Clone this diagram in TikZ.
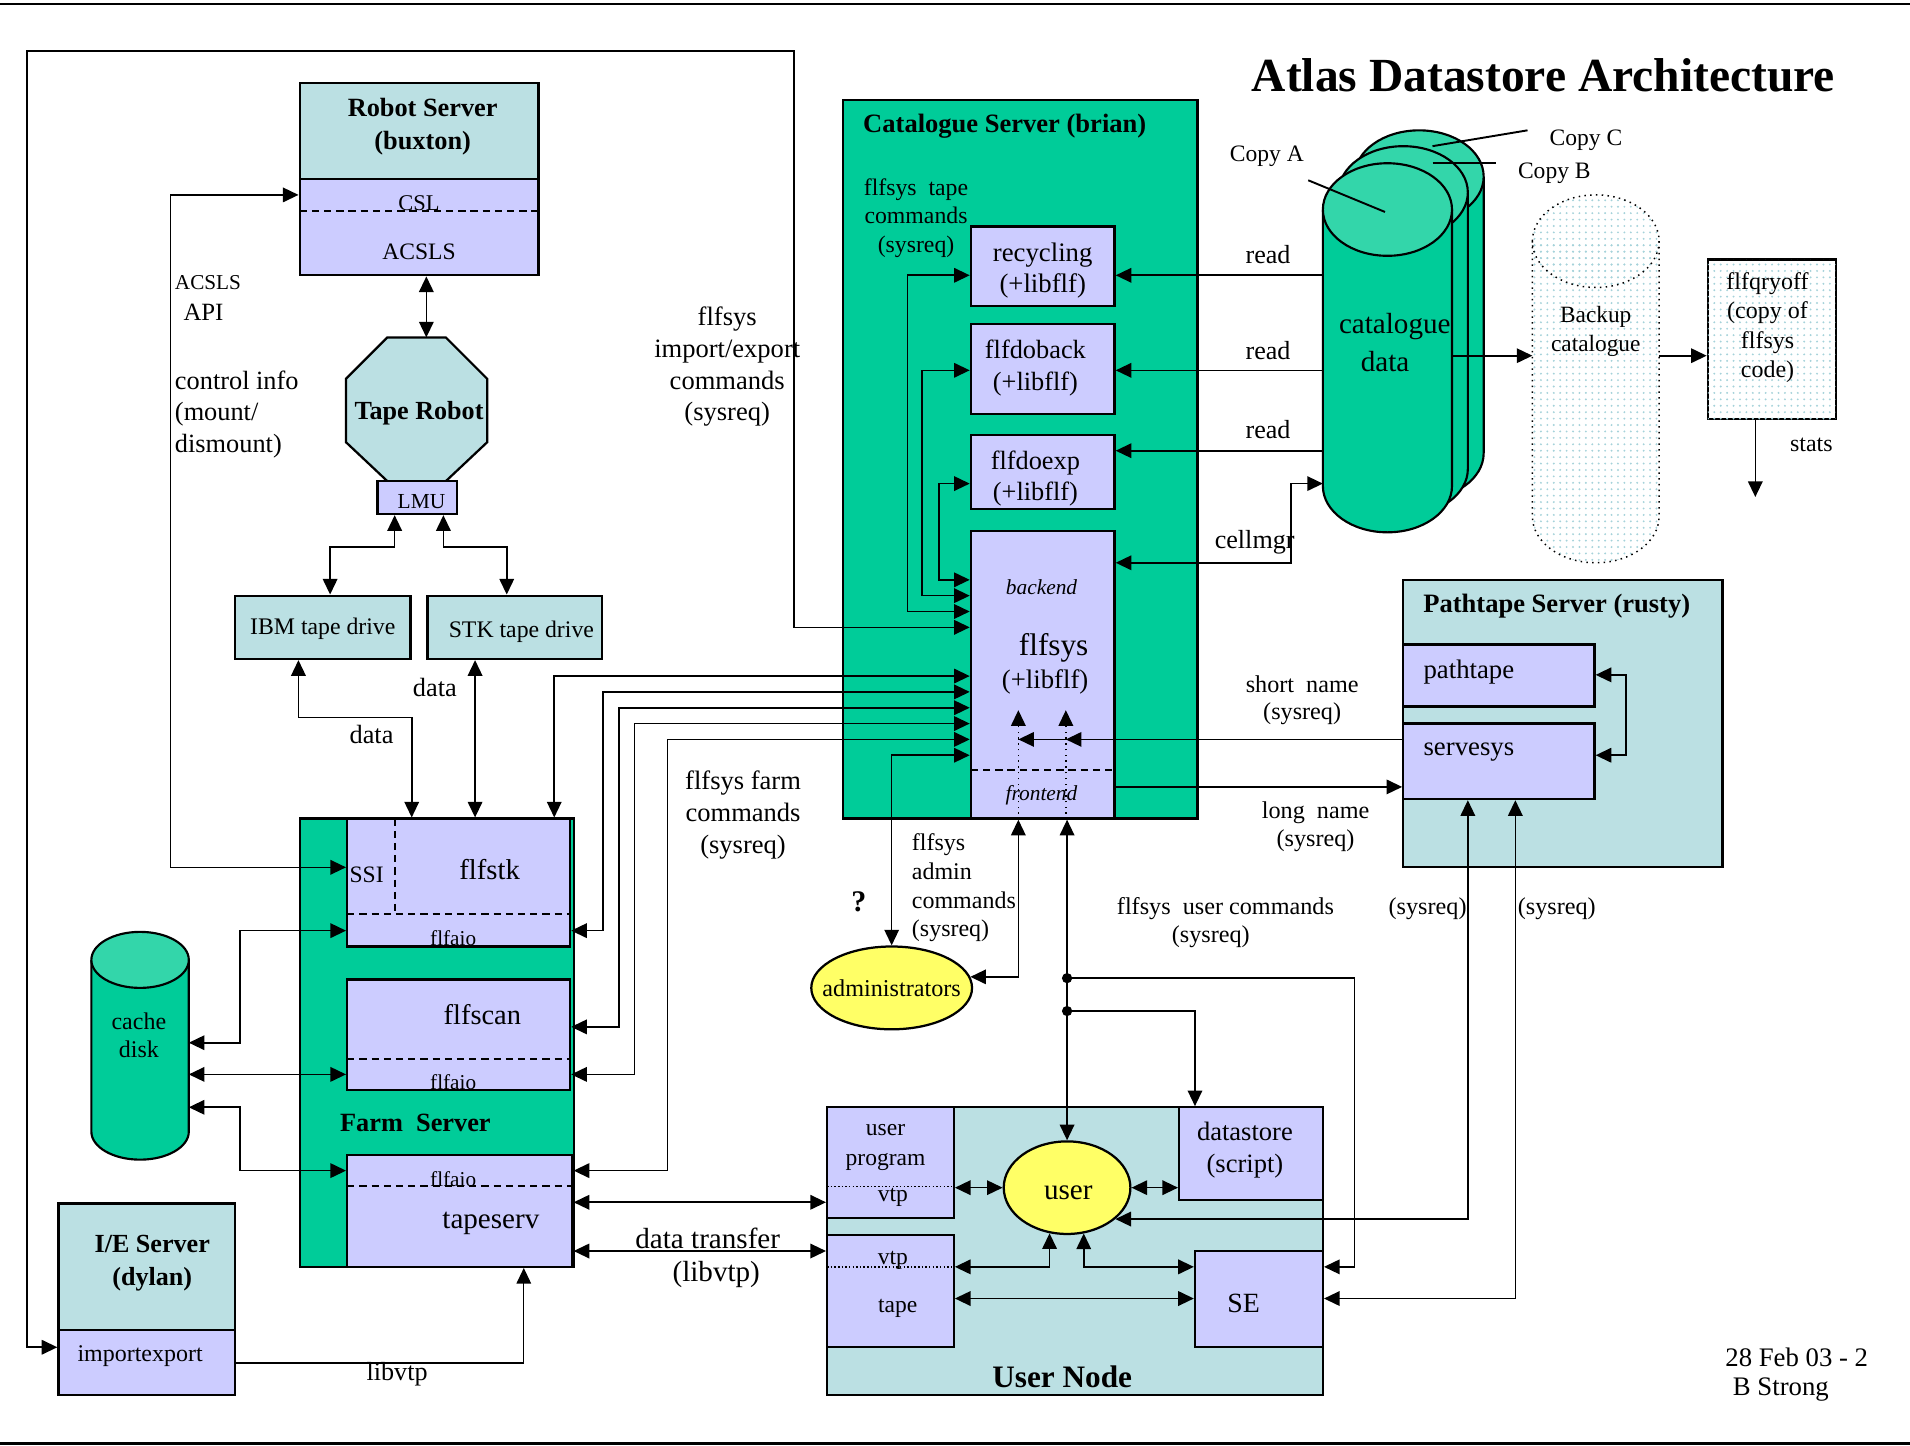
\documentclass[tikz,border=0pt]{standalone}
\usepackage{fontspec}
\setmainfont{Liberation Serif}
\usetikzlibrary{fit,arrows.meta,patterns,shapes.geometric,calc}
\definecolor{cgreen}{RGB}{0,204,153}
\definecolor{cteal}{RGB}{187,224,227}
\definecolor{clav}{RGB}{204,204,255}
\definecolor{ctop}{RGB}{51,214,170}
\definecolor{cyel}{RGB}{255,255,102}
\definecolor{cdot}{RGB}{165,210,218}
\newcommand\mycyl[7]{%
 \fill[#6] (#1-#2,#3) rectangle (#1+#2,#4);
 \fill[#6] (#1,#4) ellipse[x radius=#2, y radius=#5];
 \draw[line width=1pt] (#1-#2,#3) -- (#1-#2,#4) arc[start angle=180,end angle=0,x radius=#2,y radius=#5] -- (#1+#2,#3);
 \filldraw[fill=#7,line width=1pt] (#1,#3) ellipse[x radius=#2,y radius=#5];}
\begin{document}
\begin{tikzpicture}[x=0.02cm,y=-0.02cm, >={Triangle[length=7.3pt,width=6.8pt]}, line width=0.75pt,
 tx/.style={inner sep=0pt, align=center},
 fs/.style 2 args={font=\fontsize{#1pt}{#2pt}\selectfont},
 fsb/.style 2 args={font=\fontsize{#1pt}{#2pt}\selectfont\bfseries},
 fsi/.style 2 args={font=\fontsize{#1pt}{#2pt}\selectfont\itshape},
 bx/.style={draw, line width=1.05pt, inner sep=0pt},
 tbox/.style={bx, fill=cteal}, lbox/.style={bx, fill=clav}, gbox/.style={bx, fill=cgreen},
 dsh/.style={dash pattern=on 3.4pt off 2.3pt, line width=0.9pt},
 dtt/.style={dotted, line width=0.7pt}]
\useasboundingbox (0,0) rectangle (1568,1187);
\draw[line width=1pt] (0,3) -- (1568,3);
\draw[line width=1pt] (0,1185) -- (1568,1185);

% ---------- boxes ----------
\node[tbox, fit={(246,68) (442,147)}] (robtop) {};
\node[lbox, fit={(246,147) (442,226)}] (robbot) {};
\draw[dsh] (246,173) -- (442,173);
\filldraw[fill=cteal, line width=1.05pt] (318,277)--(366,277)--(400,311)--(400,363)--(366,395)--(318,395)--(284,363)--(284,311)--cycle;
\coordinate (robtopc) at (350,277);
\node[lbox, fit={(310,395) (375,422)}] (lmu) {};
\node[tbox, fit={(193,489) (337,541)}] (ibm) {};
\node[tbox, fit={(351,489) (494,541)}] (stk) {};

\node[gbox, fit={(246,672) (471,1040)}] (farm) {};
\node[lbox, fit={(285,672) (468,777)}] (flfstk) {};
\draw[dsh] (324,672) -- (324,750);
\draw[dsh] (285,750) -- (468,750);
\node[lbox, fit={(285,804) (468,895)}] (flfscan) {};
\draw[dsh] (285,869) -- (468,869);
\node[lbox, fit={(285,948) (470,1040)}] (tapeserv) {};
\draw[dsh] (285,974) -- (470,974);

\node[tbox, fit={(48,988) (193,1092)}] (ietop) {};
\node[lbox, fit={(48,1092) (193,1145)}] (impexp) {};

\mycyl{115}{40}{788}{929}{23}{cgreen}{ctop}
\coordinate (cacher) at (155,850);

\node[gbox, fit={(692,82) (983,672)}] (cat) {};
\node[lbox, fit={(797,186) (915,251)}] (recyc) {};
\node[lbox, fit={(797,266) (915,340)}] (doback) {};
\node[lbox, fit={(797,357) (915,418)}] (doexp) {};
\node[lbox, fit={(797,436) (915,672)}] (flfsys) {};
\draw[dsh] (797,632) -- (915,632);

\mycyl{1165}{53}{145}{372}{38}{cgreen}{ctop}
\mycyl{1152}{53}{158}{385}{38}{cgreen}{ctop}
\mycyl{1139}{53}{172}{399}{38}{cgreen}{ctop}
\coordinate (cdl) at (1086,292);
\coordinate (cdr) at (1192,292);

% backup catalogue
\fill[white] (1258,198) rectangle (1362,424);
\fill[white] (1310,424) ellipse[x radius=52,y radius=38];
\fill[pattern=dots, pattern color=cdot] (1258,198) -- (1258,424) arc[start angle=180,end angle=0,x radius=52,y radius=38] -- (1362,198) -- cycle;
\fill[pattern=dots, pattern color=cdot] (1310,198) ellipse[x radius=52,y radius=38];
\draw[dtt] (1258,198) -- (1258,424) arc[start angle=180,end angle=0,x radius=52,y radius=38] -- (1362,198);
\draw[dtt] (1310,198) ellipse[x radius=52,y radius=38];
\coordinate (bkl) at (1258,292);
\coordinate (bkr) at (1362,292);

\node[bx, fill=white, postaction={pattern=dots, pattern color=cdot}, fit={(1402,213) (1507,344)}] (qry) {};

\node[tbox, fit={(1152,476) (1414,712)}] (path) {};
\node[lbox, fit={(1152,529) (1309,580)}] (pathtape) {};
\node[lbox, fit={(1152,594) (1309,656)}] (servesys) {};

\node[tbox, fit={(679,909) (1086,1145)}] (unode) {};
\node[lbox, fit={(679,909) (783,1000)}] (uprog) {};
\draw[dtt, densely dotted] (679,974) -- (783,974);
\node[lbox, fit={(679,1014) (783,1106)}] (vtp) {};
\draw[dtt, densely dotted] (679,1040) -- (783,1040);
\node[lbox, fit={(968,909) (1086,985)}] (dstore) {};
\node[lbox, fit={(981,1027) (1086,1106)}] (se) {};
\node[ellipse, draw, line width=1.05pt, fill=cyel, minimum width=2.08cm, minimum height=1.52cm, inner sep=0pt] (user) at (876,975) {};
\node[ellipse, draw, line width=1.05pt, fill=cyel, minimum width=2.64cm, minimum height=1.36cm, inner sep=0pt] (admin) at (732,811) {};

% ---------- connectors ----------
\draw[<->] (flfsys.west |- 0,515) -- (652,515) -- (652,42) -- (22,42) -- (22,1106) -- (impexp.west |- 0,1106);
\draw[<->] (robbot.west |- 0,160) -- (140,160) -- (140,712) -- (flfstk.west |- 0,712);
\draw[<->] (robbot.south -| 350,0) -- (robtopc);
\draw[<->] (lmu.south -| 324,0) -- (324,449) -- (271,449) -- (ibm.north -| 271,0);
\draw[<->] (lmu.south -| 364,0) -- (364,449) -- (416,449) -- (stk.north -| 416,0);
\draw[<->] (ibm.south -| 245,0) -- (245,589) -- (338,589) -- (flfstk.north -| 338,0);
\draw[<->] (stk.south -| 390,0) -- (flfstk.north -| 390,0);
\draw[<->] (flfsys.west |- 0,555) -- (455,555) -- (flfstk.north -| 455,0);
\draw[<->] (flfsys.west |- 0,568) -- (495,568) -- (495,764) -- (flfstk.east |- 0,764);
\draw[<->] (flfsys.west |- 0,581) -- (508,581) -- (508,843) -- (flfscan.east |- 0,843);
\draw[<->] (flfsys.west |- 0,594) -- (521,594) -- (521,882) -- (flfscan.east |- 0,882);
\draw[<->] (flfsys.west |- 0,607) -- (548,607) -- (548,961) -- (tapeserv.east |- 0,961);
\draw[<->] (flfsys.west |- 0,620) -- (732,620) -- (admin.north);
\draw[<->] (recyc.west |- 0,226) -- (745,226) -- (745,502) -- (flfsys.west |- 0,502);
\draw[<->] (doback.west |- 0,304) -- (757,304) -- (757,489) -- (flfsys.west |- 0,489);
\draw[<->] (doexp.west |- 0,397) -- (771,397) -- (771,476) -- (flfsys.west |- 0,476);
\draw[->] (cdl |- 0,226) -- (recyc.east |- 0,226);
\draw[->] (cdl |- 0,304) -- (doback.east |- 0,304);
\draw[->] (cdl |- 0,370) -- (doexp.east |- 0,370);
\draw[<->] (flfsys.east |- 0,462) -- (1060,462) -- (1060,397) -- (cdl |- 0,397);
\draw[->] (cdr) -- (bkl);
\draw[->] (bkr) -- (qry.west |- bkr);
\coordinate (statsend) at (1441,408);
\draw[->] (qry.south -| statsend) -- (statsend);
% copy labels lines
\draw[line width=0.9pt] (1074,148) -- (1137,174);
\draw[line width=0.9pt] (1176,134) -- (1228,134);
\draw[line width=0.9pt] (1176,120) -- (1254,107);

\draw (servesys.west |- 0,607) -- (836,607);
\draw[->] (892,607) -- (875,607);
\draw[->] (853,607) -- (836,607);
\draw[dtt,->] (flfsys.south -| 836,0) -- (836,583);
\draw[dtt,->] (flfsys.south -| 875,0) -- (875,583);
\draw[->] (flfsys.east |- 0,646) -- (servesys.west |- 0,646);
\draw[<->] (pathtape.east |- 0,554) -- (1335,554) -- (1335,620) -- (servesys.east |- 0,620);

\draw[<->] (admin.8) -- (admin.8 -| 836,0) -- (flfsys.south -| 836,0);
\draw[<->] (user.north) -- (flfsys.south -| user.north);
\fill (876,803) circle[radius=2.4pt];
\fill (876,830) circle[radius=2.4pt];
\draw[->] (876,803) -- (1112,803) -- (1112,1040) -- (se.east |- 0,1040);
\draw[->] (876,830) -- (981,830) -- (dstore.north -| 981,0);
\draw[<->] (user.-33) -- (user.-33 -| 1205,0) -- (servesys.south -| 1205,0);
\draw[<->] (se.east |- 0,1066) -- (1244,1066) -- (servesys.south -| 1244,0);
\draw[<->] (uprog.east |- user.west) -- (user.west);
\draw[<->] (user.east) -- (dstore.west |- user.east);
\draw[<->] (vtp.east |- 0,1040) -- (user.-111 |- 0,1040) -- (user.-111);
\draw[<->] (user.-70) -- (user.-70 |- 0,1040) -- (se.west |- 0,1040);
\draw[<->] (vtp.east |- 0,1066) -- (se.west |- 0,1066);
\draw[<->] (tapeserv.east |- 0,987) -- (uprog.west |- 0,987);
\draw[<->] (tapeserv.east |- 0,1027) -- (vtp.west |- 0,1027);
\draw[->, line width=0.6pt] (impexp.east |- 0,1119) -- (430,1119) -- (tapeserv.south -| 430,0);
\draw[<->] (flfstk.west |- 0,764) -- (197,764) -- (197,856) -- (cacher |- 0,856);
\draw[<->] (flfscan.west |- 0,882) -- (cacher |- 0,882);
\draw[<->] (tapeserv.west |- 0,961) -- (197,961) -- (197,909) -- (cacher |- 0,909);

% ---------- texts ----------
\node[tx, fsb={22.2}{26}] (title) at (1267,62) {Atlas Datastore Architecture};
\node[tx, fsb={12.3}{15.3}] (rst) at (347,104) {Robot Server\\(buxton)};
\node[tx, fs={10.5}{12}] (cslt) at (344,167) {CSL};
\node[tx, fs={11}{13}] (acslst) at (344,207) {ACSLS};
\node[tx, fs={9.9}{12}, anchor=west] (api1) at (143,232) {ACSLS};
\node[tx, fs={11.6}{13}, anchor=west] (api2) at (150,256) {API};
\node[tx, fs={12.3}{14.7}, anchor=west, align=left] (ctrl) at (143,340) {control info\\(mount/\\dismount)};
\node[tx, fsb={12.2}{14}] (trt) at (344,339) {Tape Robot};
\node[tx, fs={10}{12}] (lmut) at (346,412) {LMU};
\node[tx, fs={11.1}{13}] (ibmt) at (265,516) {IBM tape drive};
\node[tx, fs={11.1}{13}] (stkt) at (428,519) {STK tape drive};
\node[tx, fs={12.3}{14}] (data1) at (357,564) {data};
\node[tx, fs={12.3}{14}] (data2) at (305,603) {data};
\node[tx, fs={12.4}{14.9}] (iecmd) at (597,301) {flfsys\\import/export\\commands\\(sysreq)};
\node[tx, fs={12.4}{15}] (farmc) at (610,669) {flfsys farm\\commands\\(sysreq)};
\node[tx, fs={11}{13}] (ssit) at (301,718) {SSI};
\node[tx, fs={13.4}{15}] (flfstkt) at (402,714) {flfstk};
\node[tx, fs={9.9}{12}] (aio1) at (372,770) {flfaio};
\node[tx, fs={13.3}{15}] (flfscant) at (396,833) {flfscan};
\node[tx, fs={9.9}{12}] (aio2) at (372,888) {flfaio};
\node[tx, fs={9.9}{12}] (aio3) at (372,968) {flfaio};
\node[tx, fs={13.6}{15}] (tapeservt) at (403,1004) {tapeserv};
\node[tx, fsb={12.3}{14}] (farmt) at (341,922) {Farm\ \ Server};
\node[tx, fs={11.2}{13}] (cachet) at (114,850) {cache\\disk};
\node[tx, fsb={12.2}{15.3}] (iet) at (125,1037) {I/E Server\\(dylan)};
\node[tx, fs={11.2}{13}] (impexpt) at (115,1113) {importexport};
\node[tx, fs={12.2}{14}] (libvtp1) at (326,1128) {libvtp};
\node[tx, fs={13.6}{15}] (dtr) at (581,1017) {data transfer};
\node[tx, fs={13.6}{15}] (dtr2) at (588,1046) {(libvtp)};
\node[tx, fsb={14}{16}] (qm) at (705,740) {?};
\node[tx, fs={11.3}{13}] (admint) at (732,811) {administrators};
\node[tx, fs={11.2}{13.4}, anchor=west, align=left] (admc) at (748,729) {flfsys\\admin\\commands\\(sysreq)};
\node[tx, fsb={12.4}{14}, anchor=west] (catt) at (708,104) {Catalogue Server (brian)};
\node[tx, fs={11.1}{13.3}] (tapec) at (752,179) {flfsys\ \ tape\\commands\\(sysreq)};
\node[tx, fs={12.5}{14.7}] (recyct) at (856,222) {recycling\\(+libflf)};
\node[tx, fs={12.3}{14.7}] (dobackt) at (850,302) {flfdoback\\(+libflf)};
\node[tx, fs={12.3}{14.7}] (doexpt) at (850,393) {flfdoexp\\(+libflf)};
\node[tx, fsi={10}{12}] (backt) at (855,482) {backend};
\node[tx, fs={14.6}{16}] (flfsyst) at (865,532) {flfsys};
\node[tx, fs={12.5}{14}] (libflft) at (858,560) {(+libflf)};
\node[tx, fsi={10}{12}] (frontt) at (855,653) {frontend};
\node[tx, fs={12.2}{14}] (read1) at (1041,209) {read};
\node[tx, fs={12.2}{14}] (read2) at (1041,288) {read};
\node[tx, fs={12.2}{14}] (read3) at (1041,353) {read};
\node[tx, fs={12.2}{14}] (cellt) at (1030,445) {cellmgr};
\node[tx, fs={11}{13}] (copya) at (1040,128) {Copy A};
\node[tx, fs={11}{13}] (copyc) at (1302,115) {Copy C};
\node[tx, fs={11}{13}] (copyb) at (1276,142) {Copy B};
\node[tx, fs={13.6}{15}] (catd1) at (1145,268) {catalogue};
\node[tx, fs={13.6}{15}] (catd2) at (1137,297) {data};
\node[tx, fs={10.9}{13.6}] (backupt) at (1310,272) {Backup\\catalogue};
\node[tx, fs={11.2}{13.8}] (qryt) at (1451,269) {flfqryoff\\(copy of\\flfsys\\code)};
\node[tx, fs={11.2}{13}] (statst) at (1487,365) {stats};
\node[tx, fsb={12.4}{14}] (patht) at (1278,498) {Pathtape Server (rusty)};
\node[tx, fs={12.5}{14}, anchor=west] (pathtapet) at (1168,552) {pathtape};
\node[tx, fs={12.5}{14}, anchor=west] (servesyst) at (1168,617) {servesys};
\node[tx, fs={11.3}{13}] (sn1) at (1069,562) {short\ \ name};
\node[tx, fs={11.3}{13}] (sn2) at (1069,586) {(sysreq)};
\node[tx, fs={11.3}{13}] (ln1) at (1080,667) {long\ \ name};
\node[tx, fs={11.3}{13}] (ln2) at (1080,690) {(sysreq)};
\node[tx, fs={11.3}{13}] (uc1) at (1006,746) {flfsys\ \ user commands};
\node[tx, fs={11.3}{13}] (uc2) at (994,769) {(sysreq)};
\node[tx, fs={11.3}{13}] (sq1) at (1172,746) {(sysreq)};
\node[tx, fs={11.3}{13}] (sq2) at (1278,746) {(sysreq)};
\node[tx, fs={13.6}{15}] (usert) at (877,979) {user};
\node[tx, fs={11}{13.6}] (uprogt) at (727,942) {user\\program};
\node[tx, fs={11}{13}] (vtp1) at (733,983) {vtp};
\node[tx, fs={11}{13}] (vtp2) at (733,1035) {vtp};
\node[tx, fs={11}{13}] (tapet) at (737,1074) {tape};
\node[tx, fs={12.4}{14.7}] (dstoret) at (1022,944) {datastore\\(script)};
\node[tx, fs={13}{15}] (set) at (1021,1070) {SE};
\node[tx, fsb={14.6}{16}] (unodet) at (872,1130) {User Node};
\node[tx, fs={12.5}{14}] (date) at (1475,1114) {28 Feb 03 - 2};
\node[tx, fs={12.5}{14}] (auth) at (1462,1141) {B Strong};
\end{tikzpicture}
\end{document}
